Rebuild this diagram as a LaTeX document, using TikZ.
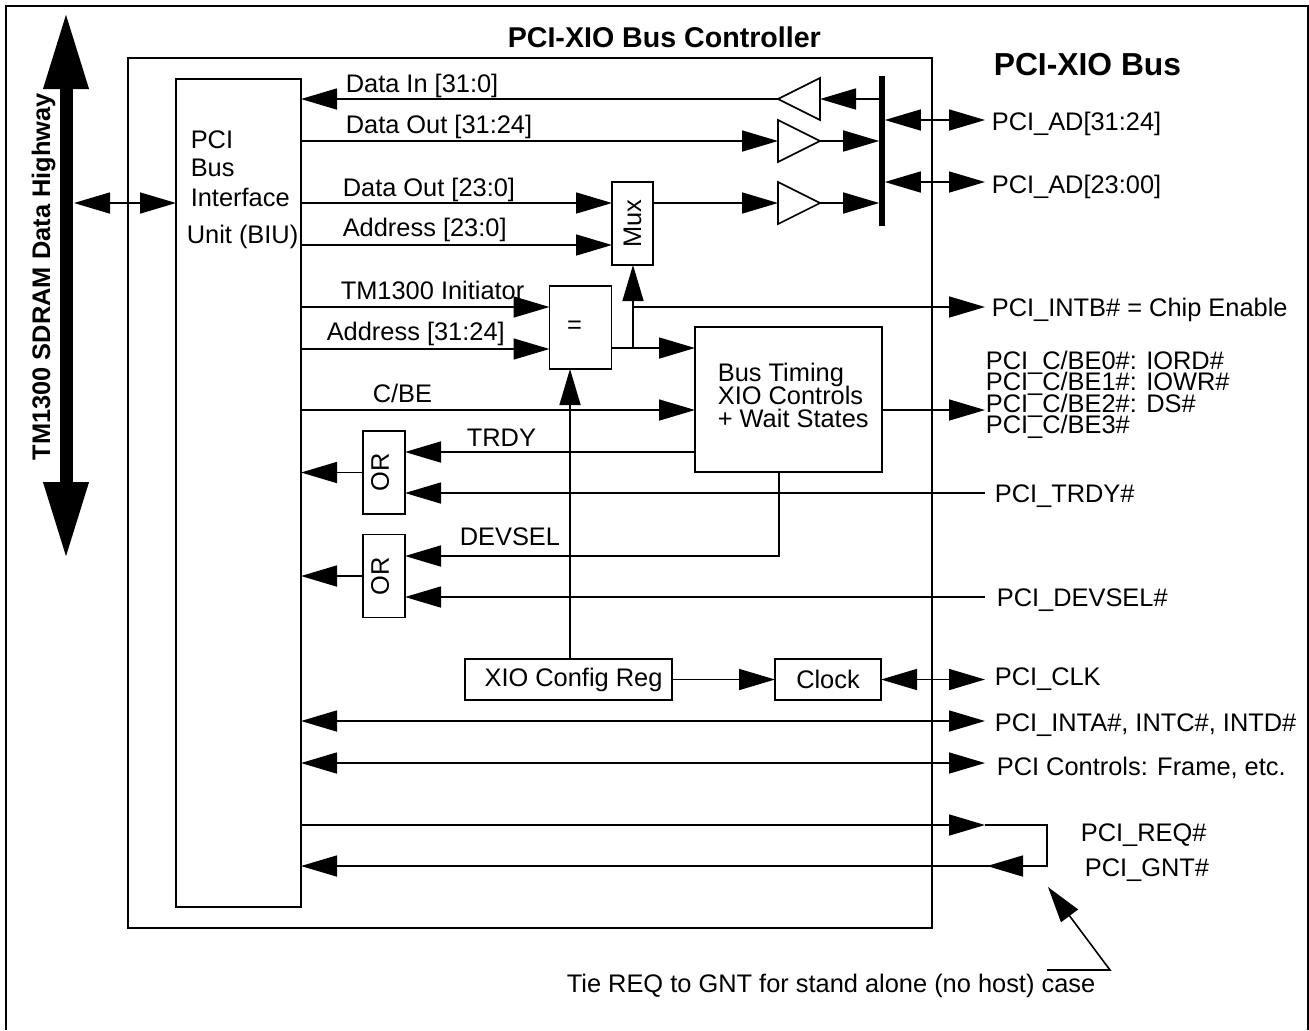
\documentclass[tikz,border=0pt]{standalone}
\usepackage{fontspec}
\usepackage{graphicx}
\setmainfont{Liberation Sans}
\usetikzlibrary{arrows.meta,shapes.geometric}

\begin{document}
\begin{tikzpicture}[
        x=0.5pt, y=-0.5pt,
        line width=0.8pt,
        >={Triangle[length=18pt,width=10.5pt]},
        box/.style={rectangle, draw, inner sep=0pt, outer sep=0pt, align=center, font=\fontsize{12.7}{12.2}\selectfont},
        lbl/.style={anchor=base west, inner sep=0pt, font=\fontsize{12.7}{15}\selectfont},
        buf/.style={isosceles triangle, isosceles triangle stretches, draw, inner sep=0pt, outer sep=0pt, minimum width=21pt, minimum height=21pt, anchor=apex},
        sig/.style={->},
        both/.style={<->}
    ]
        \useasboundingbox (0,0) rectangle (1309,1030);
        \draw (6,1030) -- (6,6) -- (1308,6) -- (1308,1030);

        % Main blocks
        \node[box, minimum width=402pt, minimum height=435pt] (ctrl) at (530,493) {};
        \node[box, minimum width=62.5pt, minimum height=414pt] (biu) at (238.5,493) {};
        \node[box, minimum width=20.5pt, minimum height=41.5pt] (mux) at (632.5,223.5) {\rotatebox{90}{Mux}};
        \node[box, minimum width=31pt, minimum height=41.5pt] (eq) at (580.5,327.5) {=\hspace*{6pt}};
        \node[box, minimum width=93.5pt, minimum height=72.5pt] (timing) at (788.5,399.5) {};
        \node[box, minimum width=21pt, minimum height=41.5pt] (orT) at (384,472.5) {\rotatebox{90}{OR}\hspace*{4pt}};
        \node[box, minimum width=21pt, minimum height=41.5pt] (orD) at (384,576) {\rotatebox{90}{OR}\hspace*{4pt}};
        \node[box, minimum width=103.5pt, minimum height=20.5pt] (xio) at (568.5,679.5) {\hspace*{5pt}XIO Config Reg};
        \node[box, minimum width=53pt, minimum height=20.5pt] (clk) at (828,679.5) {Clock};

        % Buffers and the bus bar
        \node[buf, shape border rotate=180] (bufin) at (778,99) {};
        \node[buf] (bufhi) at (820,141) {};
        \node[buf] (buflo) at (820,203) {};
        \node[draw, fill, inner sep=0pt, minimum width=2pt, minimum height=74pt] (bar) at (882,151) {};

        % Data highway
        \coordinate (hwtop) at (66,12);
        \coordinate (hwbot) at (66,559);
        \coordinate (hwport) at (74,203);
        \draw[line width=6.5pt, {Triangle[length=38.5pt,width=21pt]}-{Triangle[length=38.5pt,width=21pt]}] (hwtop) -- (hwbot);
        \node[lbl, rotate=90, font=\fontsize{12.7}{15}\selectfont\bfseries] (hwname) at (50,461) {TM1300 SDRAM Data Highway};
        \draw[both] (hwport) -- (biu.west |- hwport);

        % Titles
        \node[lbl, font=\fontsize{14.3}{16}\selectfont\bfseries] (ctrlname) at (507,47) {PCI-XIO Bus Controller};
        \node[lbl, font=\fontsize{15.9}{18}\selectfont\bfseries] (busname) at (993,75) {PCI-XIO Bus};
        \node[lbl] (biuA) at (190,148) {PCI};
        \node[lbl] (biuB) at (190,176) {Bus};
        \node[lbl] (biuC) at (190,206) {Interface};
        \node[lbl] (biuD) at (186,243) {Unit (BIU)};
        \node[lbl] (timeA) at (717,381) {Bus Timing};
        \node[lbl] (timeB) at (717,404) {XIO Controls};
        \node[lbl] (timeC) at (717,427) {+ Wait States};

        % Labels on the internal wires
        \node[lbl] (dinlbl) at (345,92) {Data In [31:0]};
        \node[lbl] (dohilbl) at (345,133) {Data Out [31:24]};
        \node[lbl] (dololbl) at (342,196) {Data Out [23:0]};
        \node[lbl] (adlolbl) at (342,236) {Address [23:0]};
        \node[lbl] (initlbl) at (340,299) {TM1300 Initiator};
        \node[lbl] (adhilbl) at (326,340) {Address [31:24]};
        \node[lbl] (cbelbl) at (372,402) {C/BE};
        \node[lbl] (trdylbl) at (466,446) {TRDY};
        \node[lbl] (devlbl) at (459,545) {DEVSEL};

        % Pin labels
        \node[lbl] (pinADhi) at (991,130) {PCI\_AD[31:24]};
        \node[lbl] (pinADlo) at (991,193) {PCI\_AD[23:00]};
        \node[lbl] (pinINTB) at (991,316) {PCI\_INTB\# = Chip Enable};
        \node[lbl] (pinBE0) at (985,369) {PCI\_C/BE0\#: IORD\#};
        \node[lbl] (pinBE1) at (985,390) {PCI\_C/BE1\#: IOWR\#};
        \node[lbl] (pinBE2) at (985,412) {PCI\_C/BE2\#: DS\#};
        \node[lbl] (pinBE3) at (985,433) {PCI\_C/BE3\#};
        \node[lbl] (pinTRDY) at (994,502) {PCI\_TRDY\#};
        \node[lbl] (pinDEV) at (996,606) {PCI\_DEVSEL\#};
        \node[lbl] (pinCLK) at (994,685) {PCI\_CLK};
        \node[lbl] (pinINT) at (994,731) {PCI\_INTA\#, INTC\#, INTD\#};
        \node[lbl] (pinCTL) at (996,775) {PCI Controls: Frame, etc.};
        \node[lbl] (pinREQ) at (1080,841) {PCI\_REQ\#};
        \node[lbl] (pinGNT) at (1084,876) {PCI\_GNT\#};
        \node[lbl] (tienote) at (566,992) {Tie REQ to GNT for stand alone (no host) case};

        % Free ends on the right
        \coordinate (endADhi) at (985,120);
        \coordinate (endADlo) at (985,182);
        \coordinate (endINTB) at (985,307);
        \coordinate (endBE) at (985,410);
        \coordinate (endTRDY) at (985,493);
        \coordinate (endDEV) at (985,597);
        \coordinate (endCLK) at (985,679.5);
        \coordinate (endINT) at (985,721);
        \coordinate (endCTL) at (985,763);
        \coordinate (endREQ) at (985,825);
        \coordinate (endGNT) at (987,866);
        \coordinate (tieA) at (1047,825);
        \coordinate (tieB) at (1047,866);
        \coordinate (noteA) at (1047,970);
        \coordinate (noteB) at (1110,970);
        \coordinate (noteC) at (1048,887);
        \coordinate (inA) at (301,307);
        \coordinate (inB) at (301,349);
        \coordinate (inC) at (301,410);
        \coordinate (outEq) at (633,348);
        \coordinate (outIntb) at (633,307);
        \coordinate (eqIn) at (570,369);

        % Data paths
        \draw[sig] (bar.west |- bufin.apex) -- (bufin.lower side);
        \draw[sig] (bufin.apex) -- (biu.east |- bufin.apex);
        \draw[sig] (biu.east |- bufhi.apex) -- (bufhi.lower side);
        \draw[sig] (bufhi.apex) -- (bar.west |- bufhi.apex);
        \draw[sig] (buflo.apex) -- (bar.west |- buflo.apex);
        \draw[sig] (mux.east |- buflo.apex) -- (buflo.lower side);
        \draw[sig] (biu.east |- buflo.apex) -- (mux.west |- buflo.apex);
        \draw[sig] (biu.east |- 0,245) -- (mux.west |- 0,245);
        \draw[both] (bar.east |- endADhi) -- (endADhi);
        \draw[both] (bar.east |- endADlo) -- (endADlo);

        % Compare and timing
        \draw[sig] (inA) -- (eq.west |- inA);
        \draw[sig] (inB) -- (eq.west |- inB);
        \draw[sig] (eq.east |- outEq) -- (timing.west |- outEq);
        \draw[sig] (outEq) -- (mux.south -| outEq);
        \draw[sig] (outIntb) -- (endINTB);
        \draw[sig] (inC) -- (timing.west |- inC);
        \draw[sig] (timing.east |- endBE) -- (endBE);
        \draw[sig] (xio.north -| eqIn) -- (eqIn);

        % OR gates
        \draw[sig] (timing.west |- 0,452) -- (orT.east |- 0,452);
        \draw[sig] (endTRDY) -- (orT.east |- endTRDY);
        \draw[sig] (orT.west) -- (biu.east |- orT.west);
        \draw[sig] (timing.south -| 779,0) |- (orD.east |- 0,556);
        \draw[sig] (endDEV) -- (orD.east |- endDEV);
        \draw[sig] (orD.west) -- (biu.east |- orD.west);

        % Clock and lower pins
        \draw[sig] (xio) -- (clk);
        \draw[both] (clk.east) -- (endCLK);
        \draw[both] (biu.east |- endINT) -- (endINT);
        \draw[both] (biu.east |- endCTL) -- (endCTL);
        \draw[sig] (biu.east |- endREQ) -- (endREQ);
        \draw (endREQ) -- (tieA) -- (tieB) -- (endGNT);
        \draw[sig] (tieB) -- (endGNT);
        \draw[sig] (endGNT) -- (biu.east |- endGNT);

        % Note pointer
        \draw[sig] (noteA) -- (noteB) -- (noteC);
    \end{tikzpicture}
\end{document}
